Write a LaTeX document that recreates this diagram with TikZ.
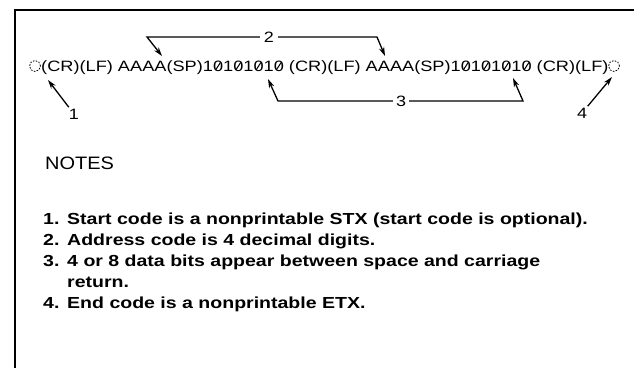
\documentclass[tikz,border=0pt]{standalone}
\usepackage{fontspec}
\setmainfont{Liberation Sans}
\usetikzlibrary{arrows.meta}
\newcommand\zsl{{\rlap{0}\hbox to \fontcharwd\font`0{\hss\raisebox{1.6pt}{\rotatebox{62}{\rule{8.2pt}{0.9pt}}}\hss}}}
\newcommand\bits{{1\zsl1\zsl1\zsl1\zsl}}
\tikzset{
  seqtext/.style={inner sep=0pt, anchor=base west, font=\fontsize{15}{18}\selectfont},
  lbl/.style={inner xsep=4pt, inner ysep=1.5pt, font=\fontsize{15}{18}\selectfont},
  notehead/.style={inner sep=0pt, anchor=base west, font=\fontsize{18}{21}\selectfont},
  note/.style={inner sep=0pt, anchor=base west, font=\bfseries\fontsize{16}{19}\selectfont},
  ptr/.style={line width=1.3pt, -{Stealth[length=9pt,width=5.5pt]}},
  frame/.style={line width=2pt},
  endcode/.style={circle, draw, dash pattern=on 1.6pt off 1.4pt, line width=0.8pt, minimum size=11pt, inner sep=0pt},
}
\begin{document}
\begin{tikzpicture}[x=1pt,y=-1pt]
\useasboundingbox (0,0) rectangle (634,368);
% frame
\draw[frame] (14,10) -- (634,10);
\draw[frame] (15,10) -- (15,368);

% message line
\node[endcode] (stx) at (35,66) {};
\node[seqtext] (seq) at (41,71.5) {\scalebox{1.213}[1]{(CR)(LF) AAAA(SP)\bits{} (CR)(LF) AAAA(SP)\bits{} (CR)(LF)}};
\node[endcode] (etx) at (614,66) {};

% note 1 pointer
\node[lbl, inner xsep=1.5pt] (n1) at (74,114) {\scalebox{1.2}[1]{1}};
\coordinate (t1) at (48,80);
\draw[ptr] (n1) -- (t1);

% note 4 pointer
\node[lbl, inner xsep=1.5pt] (n4) at (582,113) {\scalebox{1.2}[1]{4}};
\coordinate (t4) at (612,77);
\draw[ptr] (n4) -- (t4);

% bracket 2
\node[lbl] (n2) at (269,37) {\scalebox{1.2}[1]{2}};
\coordinate (c2a) at (147,37);
\coordinate (t2a) at (162,56);
\coordinate (c2b) at (377,37);
\coordinate (t2b) at (385,56);
\draw[ptr] (n2.west) -- (c2a) -- (t2a);
\draw[ptr] (n2.east) -- (c2b) -- (t2b);

% bracket 3
\node[lbl, inner xsep=3pt] (n3) at (401,101) {\scalebox{1.2}[1]{3}};
\coordinate (c3a) at (278,101);
\coordinate (t3a) at (268,79);
\coordinate (c3b) at (523,101);
\coordinate (t3b) at (513,78);
\draw[ptr] (n3.west) -- (c3a) -- (t3a);
\draw[ptr] (n3.east) -- (c3b) -- (t3b);

% notes
\node[notehead] (head) at (45,169) {\scalebox{1.11}[1]{NOTES}};
\node[note] (l1) at (43,224) {\scalebox{1.22}[1]{\makebox[19.7pt][l]{1.}Start code is a nonprintable STX (start code is optional).}};
\node[note] (l2) at (43,245) {\scalebox{1.22}[1]{\makebox[19.7pt][l]{2.}Address code is 4 decimal digits.}};
\node[note] (l3) at (43,266) {\scalebox{1.22}[1]{\makebox[19.7pt][l]{3.}4 or 8 data bits appear between space and carriage}};
\node[note] (l3b) at (67,287) {\scalebox{1.22}[1]{return.}};
\node[note] (l4) at (43,308) {\scalebox{1.22}[1]{\makebox[19.7pt][l]{4.}End code is a nonprintable ETX.}};
\end{tikzpicture}
\end{document}
